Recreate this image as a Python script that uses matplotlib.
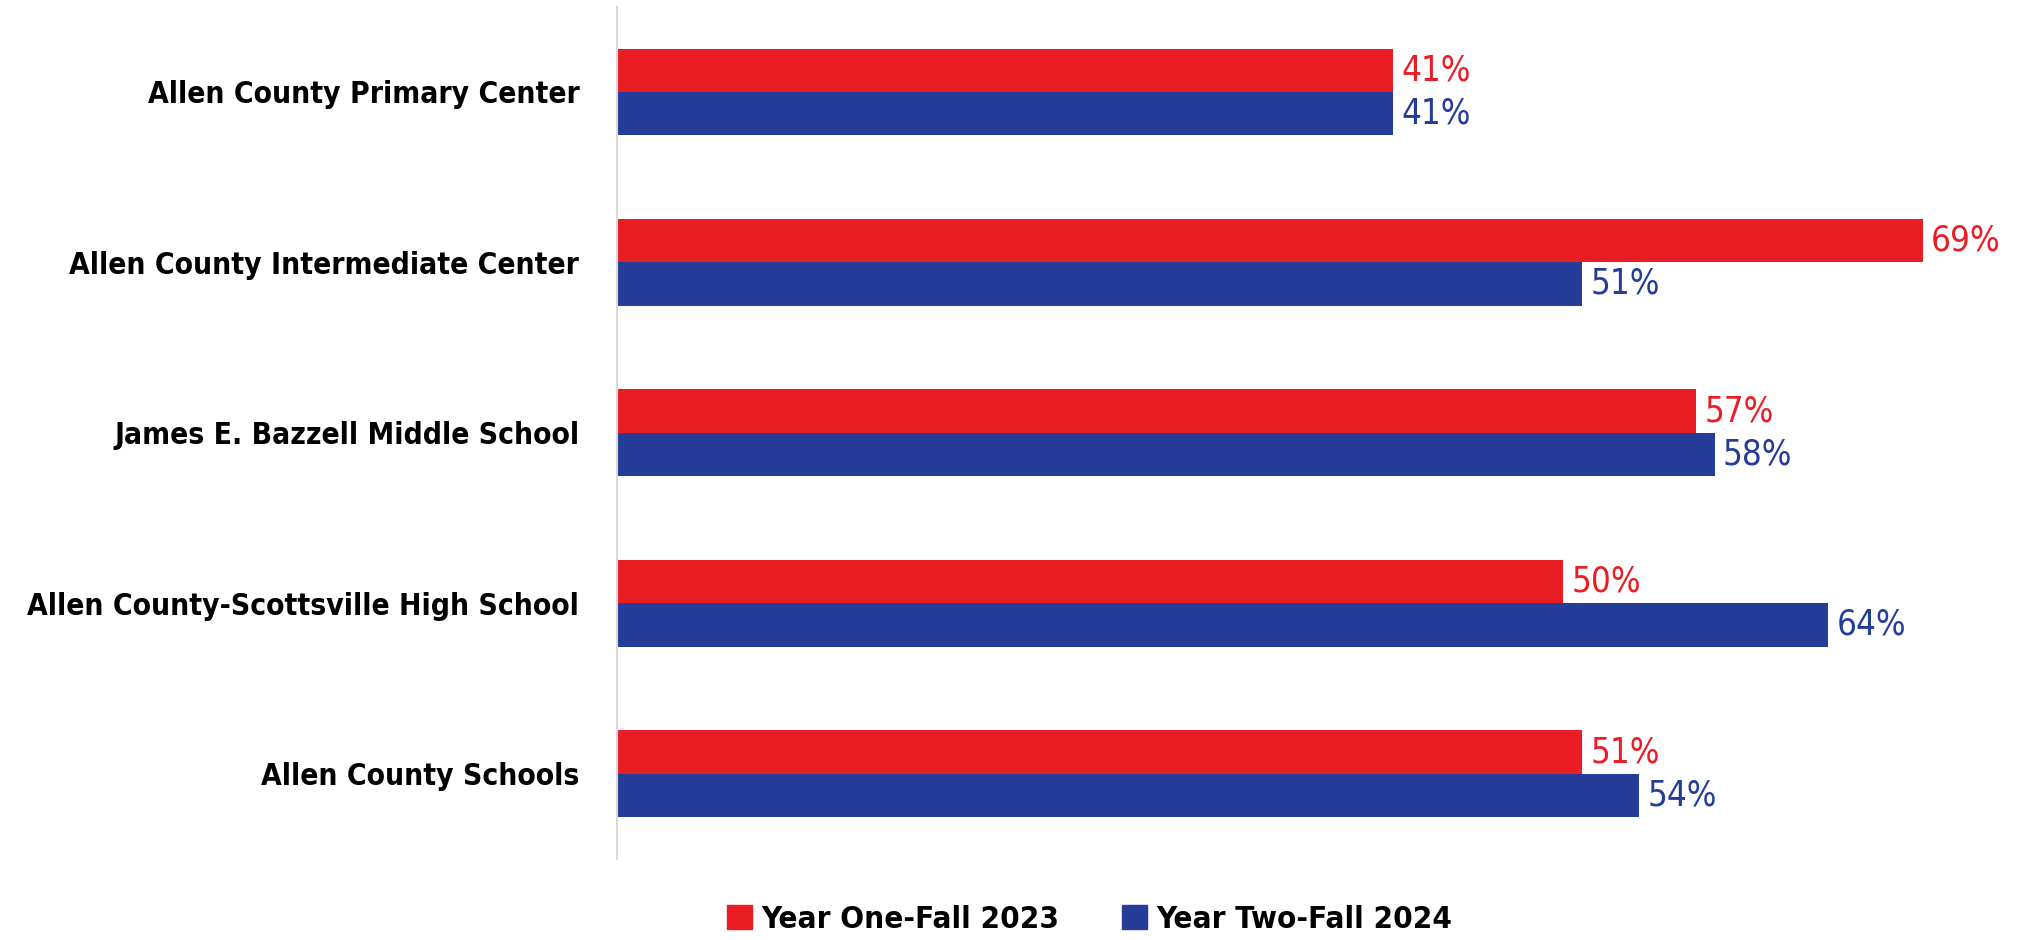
import numpy as np
import matplotlib.pyplot as plt
from matplotlib.patches import Patch

schools = ['Allen County Primary Center',
           'Allen County Intermediate Center',
           'James E. Bazzell Middle School',
           'Allen County-Scottsville High School',
           'Allen County Schools']
year_one = [41, 69, 57, 50, 51]
year_two = [41, 51, 58, 64, 54]
series_names = ['Year One-Fall 2023', 'Year Two-Fall 2024']

RED = '#EA1D25'
BLUE = '#253D98'

fig = plt.figure(figsize=(20.29, 9.40), dpi=100)
ax = fig.add_axes([0.304, 0.0862, 0.6716, 0.9068])

y = np.arange(len(schools))
h = 0.254
ax.barh(y - h / 2, year_one, height=h, color=RED)
ax.barh(y + h / 2, year_two, height=h, color=BLUE)

lbl_font = dict(family='DejaVu Sans', fontstretch='condensed', fontsize=25)
for yi, v in zip(y, year_one):
    ax.text(v + 0.45, yi - h / 2, f'{v}%', color=RED, va='center', ha='left', **lbl_font)
for yi, v in zip(y, year_two):
    ax.text(v + 0.45, yi + h / 2, f'{v}%', color=BLUE, va='center', ha='left', **lbl_font)

ax.set_xlim(0, 72)
ax.set_ylim(len(schools) - 0.5, -0.5)
ax.set_yticks(y)
ax.set_yticklabels(schools, family='DejaVu Sans', fontstretch='condensed',
                   fontweight='bold', fontsize=21.5)
ax.tick_params(axis='y', length=0, pad=27)
ax.set_xticks([])
for s in ['top', 'right', 'bottom']:
    ax.spines[s].set_visible(False)
ax.spines['left'].set_color('#D9D9D9')
ax.spines['left'].set_linewidth(1.5)

handles = [Patch(color=RED), Patch(color=BLUE)]
fig.legend(handles, series_names, loc='center', bbox_to_anchor=(0.537, 0.022),
           ncol=2, frameon=False, handlelength=0.8, handleheight=0.8,
           handletextpad=0.3, columnspacing=2.0,
           prop=dict(family='DejaVu Sans', stretch='condensed', weight='bold', size=22.5))

fig.savefig('out.png', dpi=100)
